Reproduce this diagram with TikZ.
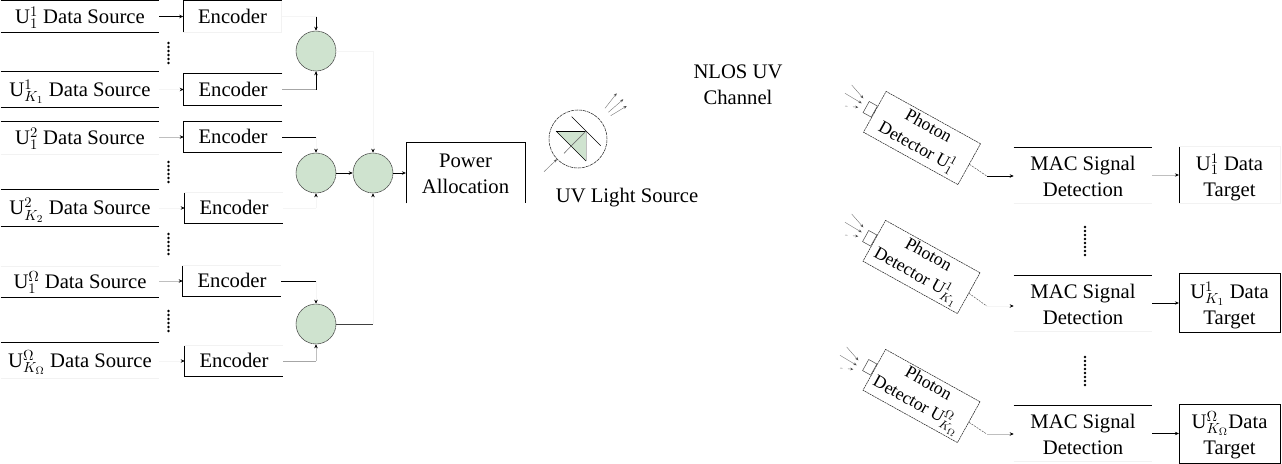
\documentclass[tikz,border=0pt]{standalone}
\usepackage{fontspec}
\setmainfont{Liberation Serif}
\usetikzlibrary{arrows.meta}
\definecolor{sumgreen}{HTML}{CFE3CF}
\tikzset{
  blockbase/.style= {
    rectangle,
    inner sep = 0pt,
    align = center,
    font = \fontsize{15.5}{19.5}\selectfont
  },
  oneline/.style= {
    blockbase,
    text height = 14.4pt,
    text depth = 4pt
  },
  twoline/.style= {
    blockbase,
    text height = 35.5pt,
    text depth = 4pt
  },
  srcbox/.style= {
    oneline,
    minimum width = 118.5pt
  },
  encbox/.style= {
    oneline,
    minimum width = 73.5pt
  },
  macbox/.style= {
    twoline,
    minimum width = 103.5pt,
    minimum height = 41.5pt
  },
  targetbox/.style= {
    twoline,
    minimum width = 75.5pt
  },
  sumnode/.style= {
    circle,
    draw = black!75,
    dash pattern = on 3pt off 0.4pt,
    line width = 0.4pt,
    fill = sumgreen,
    minimum size = 30pt,
    inner sep = 0pt
  },
  detbox/.style= {
    rectangle,
    draw = black!85,
    dash pattern = on 1.6pt off 0.5pt,
    line width = 0.4pt,
    rotate = -29,
    align = center,
    inner sep = 0pt,
    minimum width = 81pt,
    minimum height = 35pt,
    font = \fontsize{13.3}{17.5}\selectfont
  },
  detport/.style= {
    rectangle,
    draw = black!70,
    line width = 0.4pt,
    rotate = -29,
    anchor = east,
    inner sep = 0pt,
    minimum width = 7pt,
    minimum height = 9.5pt
  },
  edgeline/.style= {line width = 0.6pt, draw = black},
  fadeline/.style= {line width = 0.5pt, draw = black!5},
  sig/.style= {line width = 0.5pt, draw = black, -{Stealth[length=3pt,width=2.6pt,black]}},
  sigfade/.style= {sig, draw = black!25},
  sigfaint/.style= {sig, draw = black!4},
  rayline/.style= {line width = 0.3pt, draw = black!55, -{Stealth[length=2.4pt,width=2pt,black!70]}},
  wire/.style= {line width = 0.5pt, draw = black},
  wirefade/.style= {line width = 0.5pt, draw = black!35},
  wirefaint/.style= {line width = 0.5pt, draw = black!4},
  dashwire/.style= {line width = 0.35pt, draw = black!70, dash pattern = on 1.5pt off 0.8pt},
  moredots/.style= {line width = 2pt, draw = black, line cap = round, dash pattern = on 0pt off 3pt},
  rays/.pic = {
    \draw[rayline] (-70.3,-53) -- (-58.7,-39.7);
    \draw[rayline] (-77,-44.7) -- (-60.3,-34.7);
    \draw[rayline,dash pattern = on 2pt off 4pt] (-77,-32) -- (-63.7,-30.7);
  }
}
\begin{document}
\begin{tikzpicture}[x=0.75pt,y=-0.75pt]
  \useasboundingbox (0,0) rectangle (1282,464);

  % data sources
  \node[srcbox,minimum height=23.25pt] (src1) at (80,16.5) {$\mathrm{U}_1^1$ Data Source};
  \node[srcbox,minimum height=26.25pt] (src2) at (80,89.5) {$\mathrm{U}_{K_1}^1$ Data Source};
  \node[srcbox,minimum height=24pt] (src3) at (80,138) {$\mathrm{U}_1^2$ Data Source};
  \node[srcbox,minimum height=27pt] (src4) at (80,208) {$\mathrm{U}_{K_2}^2$ Data Source};
  \node[srcbox,minimum height=22.5pt] (src5) at (80,282) {$\mathrm{U}_1^\Omega$ Data Source};
  \node[srcbox,minimum height=26.25pt] (src6) at (80,360.5) {$\mathrm{U}_{K_\Omega}^\Omega$ Data Source};
  \draw[edgeline] (src1.north west) -- (src1.north east);
  \draw[edgeline] (src1.south west) -- (src1.south east);
  \draw[edgeline] (src2.north west) -- (src2.north east);
  \draw[edgeline] (src2.south west) -- (src2.south east);
  \draw[edgeline] (src3.north west) -- (src3.north east);
  \draw[fadeline] (src3.south west) -- (src3.south east);
  \draw[edgeline] (src4.north west) -- (src4.north east);
  \draw[edgeline] (src4.south west) -- (src4.south east);
  \draw[fadeline] (src5.north west) -- (src5.north east);
  \draw[edgeline] (src5.south west) -- (src5.south east);
  \draw[edgeline] (src6.north west) -- (src6.north east);
  \draw[fadeline] (src6.south west) -- (src6.south east);

  % encoders
  \node[encbox,minimum height=23.25pt] (enc1) at (232.5,16.5) {Encoder};
  \node[encbox,minimum height=23.25pt] (enc2) at (233,89.5) {Encoder};
  \node[encbox,minimum height=22.5pt] (enc3) at (233,137) {Encoder};
  \node[encbox,minimum height=22.5pt] (enc4) at (234,208) {Encoder};
  \node[encbox,minimum height=22.5pt] (enc5) at (232,281) {Encoder};
  \node[encbox,minimum height=22.5pt] (enc6) at (234,361) {Encoder};
  \draw[edgeline] (enc1.south west) -- (enc1.north west) -- (enc1.north east);
  \draw[edgeline] (enc2.north east) -- (enc2.north west) -- (enc2.south west) -- (enc2.south east);
  \draw[edgeline] (enc3.north east) -- (enc3.north west) -- (enc3.south west) -- (enc3.south east);
  \draw[edgeline] (enc4.north west) -- (enc4.south west) -- (enc4.south east);
  \draw[edgeline] (enc5.north west) -- (enc5.south west) -- (enc5.south east);
  \draw[edgeline] (enc6.north west) -- (enc6.south west) -- (enc6.south east);
  \draw[fadeline] (enc1.north east) -- (enc1.south east) -- (enc1.south west);
  \draw[fadeline] (enc4.north west) -- (enc4.north east);
  \draw[fadeline] (enc5.north west) -- (enc5.north east);
  \draw[fadeline] (enc6.north west) -- (enc6.north east);

  % source to encoder
  \draw[sig] (enc1.west -| src1.east) -- (enc1.west);
  \draw[sigfaint] (enc2.west -| src2.east) -- (enc2.west);
  \draw[sigfade] (enc3.west -| src3.east) -- (enc3.west);
  \draw[sigfaint] (enc4.west -| src4.east) -- (enc4.west);
  \draw[sigfade] (enc5.west -| src5.east) -- (enc5.west);
  \draw[sigfaint] (enc6.west -| src6.east) -- (enc6.west);

  % more users
  \coordinate (gapa1) at (168.5,43);
  \coordinate (gapa2) at (168.5,66);
  \coordinate (gapb1) at (168.5,162);
  \coordinate (gapb2) at (168.5,184);
  \coordinate (gapc1) at (168.5,234);
  \coordinate (gapc2) at (168.5,257);
  \coordinate (gapd1) at (168.5,311);
  \coordinate (gapd2) at (168.5,335);
  \draw[moredots] (gapa1) -- (gapa2);
  \draw[moredots] (gapb1) -- (gapb2);
  \draw[moredots] (gapc1) -- (gapc2);
  \draw[moredots] (gapd1) -- (gapd2);

  % superposition
  \node[sumnode] (sum1) at (316,51) {};
  \node[sumnode] (sum2) at (316,173) {};
  \node[sumnode] (sum3) at (373,173) {};
  \node[sumnode] (sum4) at (316,324) {};
  \node[twoline,text height=34.4pt,minimum width=89pt,minimum height=45pt] (power) at (465.5,173) {Power\\Allocation};
  \draw[edgeline] (power.south west) -- (power.north west) -- (power.north east) -- (power.south east);

  \draw[wirefaint] (enc1.east) -| (sum1.north);
  \draw[sig] (sum1.north |- enc1.east) -- (sum1.north);
  \draw[wirefade] (enc2.east) -| (sum1.south);
  \draw[sig] (sum1.south |- enc2.east) -- (sum1.south);
  \draw[wire] (enc3.east) -- (enc3.east -| sum2.north);
  \draw[sigfaint] (sum2.north |- enc3.east) -- (sum2.north);
  \draw[wirefaint] (enc4.east) -- (enc4.east -| sum2.south);
  \draw[sigfaint] (sum2.south |- enc4.east) -- (sum2.south);
  \draw[wire] (enc5.east) -- (enc5.east -| sum4.north);
  \draw[sigfaint] (sum4.north |- enc5.east) -- (sum4.north);
  \draw[wirefade] (enc6.east) -- (enc6.east -| sum4.south);
  \draw[sigfade] (sum4.south |- enc6.east) -- (sum4.south);
  \draw[sig] (sum2) -- (sum3);
  \draw[sig] (sum3) -- (power.west);
  \draw[sigfaint] (sum1.east -| sum3.north) -- (sum3.north);
  \draw[wirefaint] (sum1) -- (sum1 -| sum3.north);
  \draw[wire,draw=black!75] (sum4) -- (sum4 -| sum3.south);
  \draw[sigfaint] (sum4 -| sum3.south) -- (sum3.south);

  % light source
  \node[circle,draw=black!85,dash pattern=on 2.5pt off 0.6pt,line width=0.4pt,minimum size=43.5pt,inner sep=0pt] (led) at (578,139) {};
  \fill[sumgreen] (556,131) -- (586,131) -- (586,161) -- cycle;
  \draw[line width=0.5pt] (556,131) -- (586,131);
  \draw[line width=0.5pt] (556,131) -- (586,161);
  \draw[line width=0.5pt,draw=black!25] (586,131) -- (586,161);
  \draw[line width=0.5pt] (571.7,116.7) -- (600.7,145.7);
  \draw[line width=0.5pt,draw=black!55] (564,153.3) -- (586,131);
  \coordinate (ledin) at (544,171.7);
  \draw[rayline] (ledin) -- (led);
  \coordinate (lray1) at (605,108.3);
  \coordinate (lray2) at (608.3,112.3);
  \coordinate (lray3) at (610.7,115.7);
  \coordinate (lend1) at (616.7,93.3);
  \coordinate (lend2) at (623.3,99.3);
  \coordinate (lend3) at (626.7,106);
  \draw[rayline] (lray1) -- (lend1);
  \draw[rayline] (lray2) -- (lend2);
  \draw[rayline] (lray3) -- (lend3);
  \node[oneline] (ledlab) at (627,196) {UV Light Source};
  \node[blockbase] (nlos) at (738,84.5) {NLOS UV\\Channel};

  % photon detectors
  \node[detbox] (det1) at (922,138) {Photon\\Detector $\mathrm{U}_1^1$};
  \node[detbox] (det2) at (921.5,267) {Photon\\Detector $\mathrm{U}_{K_1}^1$};
  \node[detbox] (det3) at (921.5,396) {Photon\\Detector $\mathrm{U}_{K_\Omega}^\Omega$};
  \node[detport] (port1) at (det1.west) {};
  \node[detport] (port2) at (det2.west) {};
  \node[detport] (port3) at (det3.west) {};
  \pic at (922,138) {rays};
  \pic at (922,267) {rays};
  \pic at (917,400) {rays};

  % detection
  \node[macbox] (mac1) at (1083,175) {MAC Signal\\Detection};
  \node[macbox] (mac2) at (1083,303) {MAC Signal\\Detection};
  \node[macbox] (mac3) at (1083,433.5) {MAC Signal\\Detection};
  \draw[edgeline] (mac1.north west) -- (mac1.north east);
  \draw[edgeline] (mac2.north west) -- (mac2.north east);
  \draw[edgeline] (mac3.north west) -- (mac3.north east);
  \draw[fadeline] (mac1.south west) -- (mac1.south east);
  \draw[fadeline] (mac2.south west) -- (mac2.south east);
  \draw[fadeline] (mac3.south west) -- (mac3.south east);

  \coordinate (bend1) at (986.7,176);
  \coordinate (bend2) at (986.7,306);
  \coordinate (bend3) at (986.7,434);
  \draw[dashwire] (det1.east) -- (bend1);
  \draw[dashwire] (det2.east) -- (bend2);
  \draw[dashwire] (det3.east) -- (bend3);
  \draw[sig] (bend1) -- (bend1 -| mac1.west);
  \draw[sigfaint] (bend2) -- (bend2 -| mac2.west);
  \draw[sigfade] (bend3) -- (bend3 -| mac3.west);

  % targets
  \node[targetbox,minimum height=42pt] (tgt1) at (1229.5,175) {$\mathrm{U}_1^1$ Data\\Target};
  \node[targetbox,minimum height=44pt] (tgt2) at (1229.5,303) {$\mathrm{U}_{K_1}^1$ Data\\Target};
  \node[targetbox,minimum height=44pt] (tgt3) at (1229.5,433.5) {$\mathrm{U}_{K_\Omega}^\Omega$Data\\Target};
  \draw[edgeline] (tgt1.north west) -- (tgt1.south west);
  \draw[fadeline] (tgt1.north west) -- (tgt1.north east) -- (tgt1.south east) -- (tgt1.south west);
  \draw[edgeline] (tgt2.north west) rectangle (tgt2.south east);
  \draw[edgeline] (tgt3.north west) rectangle (tgt3.south east);
  \draw[sigfade] (mac1.east) -- (tgt1.west);
  \draw[sig] (mac2.east) -- (tgt2.west);
  \draw[sig] (mac3.east) -- (tgt3.west);

  \coordinate (gape1) at (1085,227);
  \coordinate (gape2) at (1085,255);
  \coordinate (gapf1) at (1085,357);
  \coordinate (gapf2) at (1085,385);
  \draw[moredots] (gape1) -- (gape2);
  \draw[moredots] (gapf1) -- (gapf2);
\end{tikzpicture}
\end{document}
